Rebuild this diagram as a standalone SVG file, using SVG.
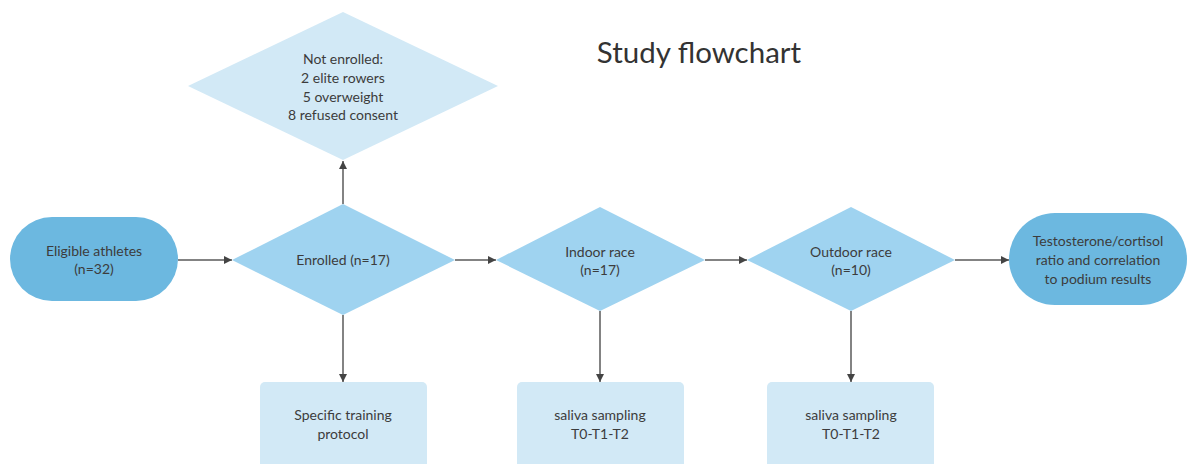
<svg xmlns="http://www.w3.org/2000/svg" width="1189" height="464" viewBox="0 0 1189 464">
<style>
text{font-family:Lato,"Open Sans","Liberation Sans",sans-serif;font-size:14px;fill:#3c3c3c;text-anchor:middle}
.term{fill:#6cb8e0}
.dec{fill:#9fd3f0}
.lite{fill:#d2e9f6}
.con line{stroke:#5a5a5a;stroke-width:1.5;marker-end:url(#ah)}
</style>
<defs>
<marker id="ah" viewBox="0 0 10 10" refX="10" refY="5" markerWidth="8" markerHeight="8" markerUnits="userSpaceOnUse" orient="auto"><path d="M0,0L10,5L0,10z" fill="#444"/></marker>
</defs>
<rect width="1189" height="464" fill="#fff"/>
<text x="699" y="63" style="font-size:29.5px;fill:#333">Study flowchart</text>
<g class="con">
<line x1="178" y1="260" x2="232" y2="260"/>
<line x1="455" y1="260" x2="496" y2="260"/>
<line x1="705" y1="260" x2="747" y2="260"/>
<line x1="955" y1="260" x2="1009" y2="260"/>
<line x1="343" y1="204" x2="343" y2="161"/>
<line x1="343" y1="315" x2="343" y2="382"/>
<line x1="600" y1="311" x2="600" y2="382"/>
<line x1="851" y1="311" x2="851" y2="382"/>
</g>
<g id="eligible"><rect class="term" x="10" y="217" width="168" height="84" rx="42"/>
<text x="94" y="256">Eligible athletes</text><text x="94" y="274">(n=32)</text></g>
<g id="notenrolled"><polygon class="lite" points="343,12 498,86 343,160 188,86"/>
<text x="343" y="64">Not enrolled:</text><text x="343" y="83">2 elite rowers</text><text x="343" y="102">5 overweight</text><text x="343" y="120">8 refused consent</text></g>
<g id="enrolled"><polygon class="dec" points="343,204 455,260 343,315 232,260"/>
<text x="343" y="265">Enrolled (n=17)</text></g>
<g id="indoor"><polygon class="dec" points="600,207 705,260 600,311 496,260"/>
<text x="600" y="257">Indoor race</text><text x="600" y="275">(n=17)</text></g>
<g id="outdoor"><polygon class="dec" points="851,207 955,260 851,311 747,260"/>
<text x="851" y="257">Outdoor race</text><text x="851" y="275">(n=10)</text></g>
<g id="result"><rect class="term" x="1009" y="213" width="178" height="92" rx="46"/>
<text x="1098" y="246">Testosterone/cortisol</text><text x="1098" y="265">ratio and correlation</text><text x="1098" y="284">to podium results</text></g>
<g id="training"><rect class="lite" x="260" y="382" width="167" height="90" rx="5"/>
<text x="343" y="420">Specific training</text><text x="343" y="439">protocol</text></g>
<g id="saliva1"><rect class="lite" x="517" y="382" width="167" height="90" rx="5"/>
<text x="600" y="420">saliva sampling</text><text x="600" y="439">T0-T1-T2</text></g>
<g id="saliva2"><rect class="lite" x="767" y="382" width="167" height="90" rx="5"/>
<text x="851" y="420">saliva sampling</text><text x="851" y="439">T0-T1-T2</text></g>
</svg>
